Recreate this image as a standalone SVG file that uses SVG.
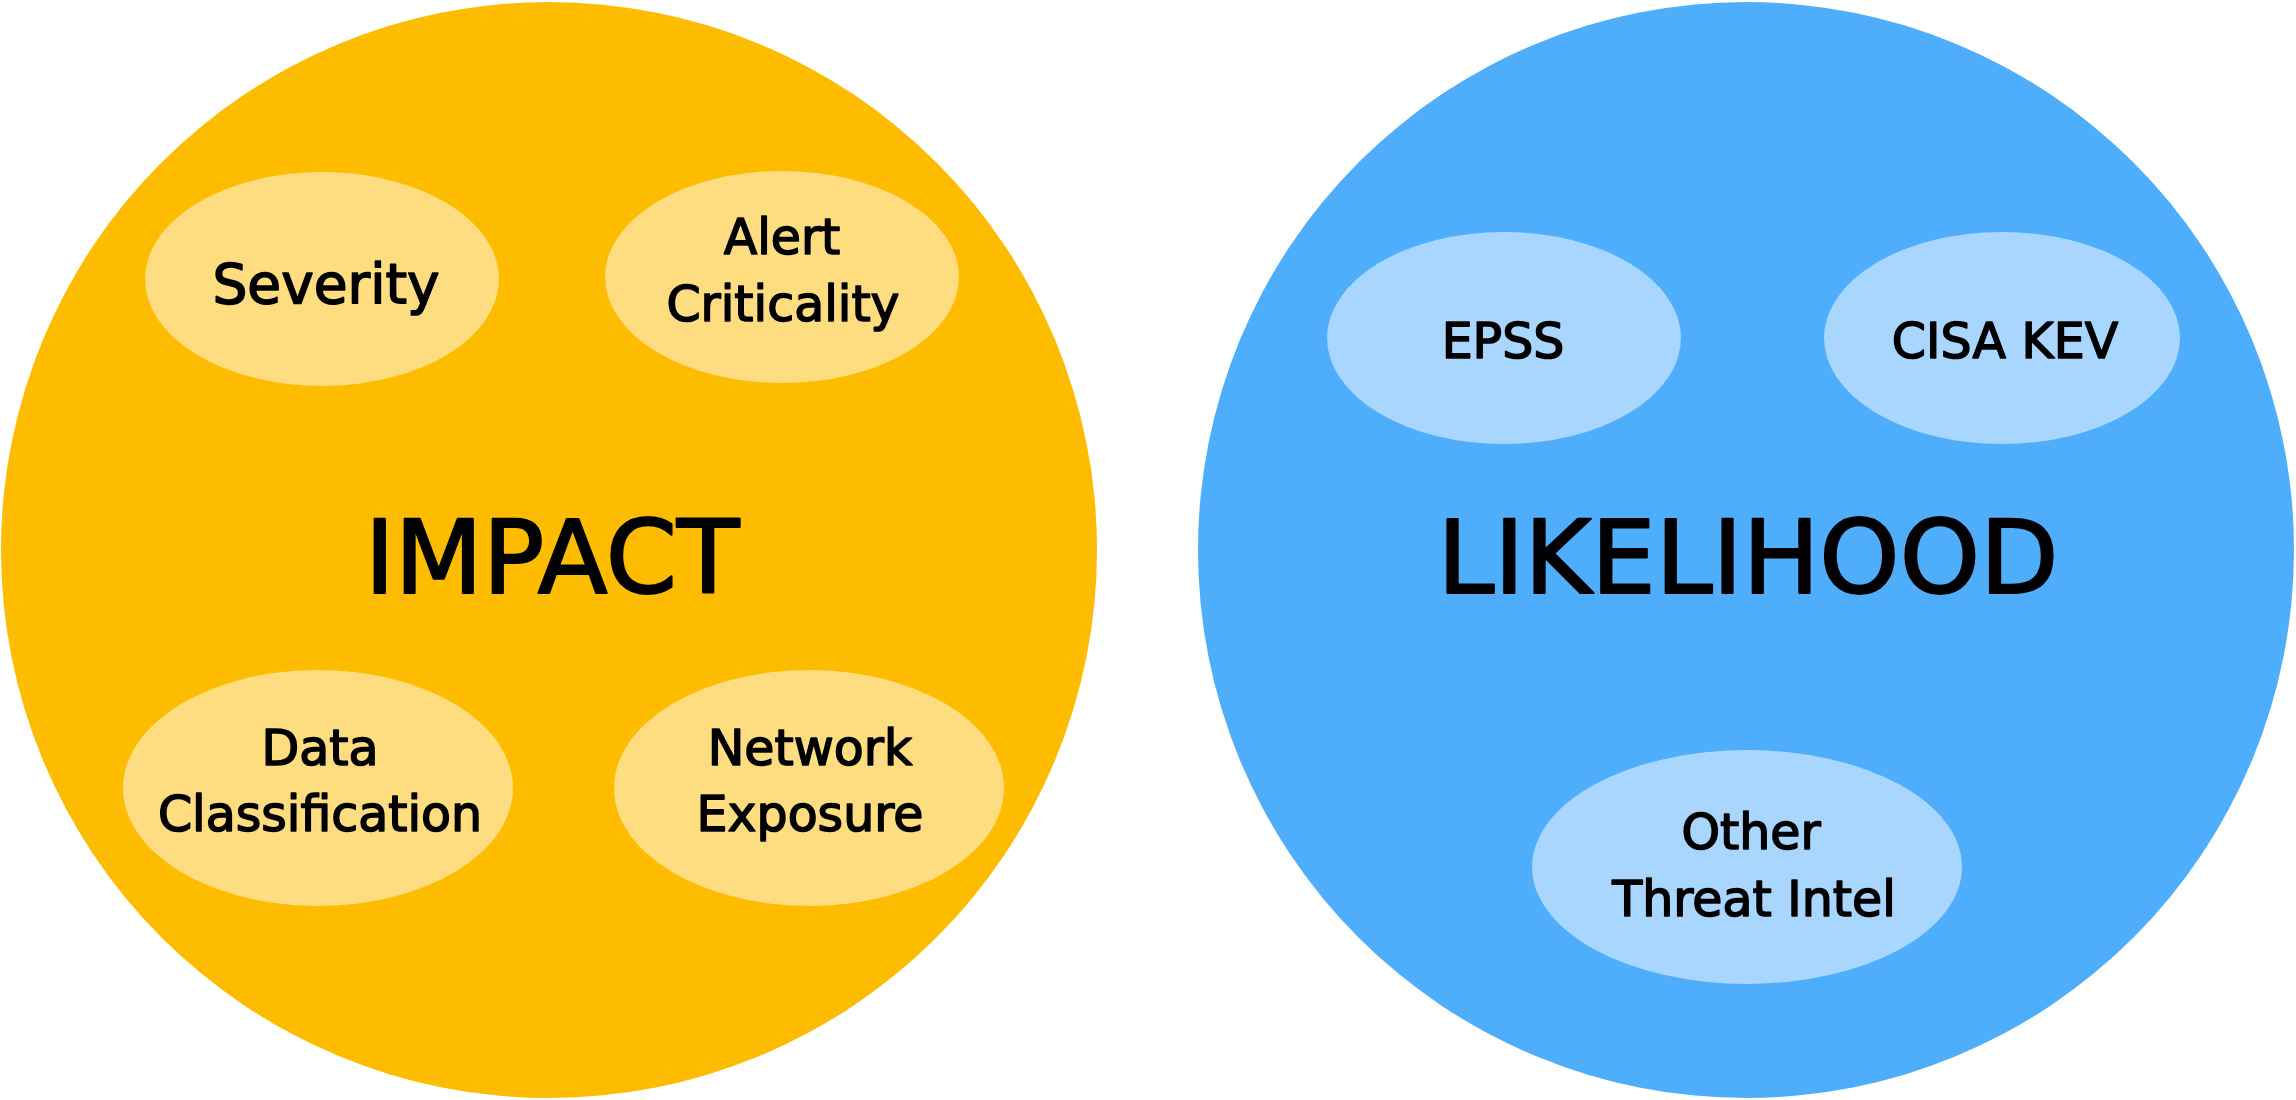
<svg xmlns="http://www.w3.org/2000/svg" width="2296" height="1100" viewBox="0 0 2296 1100">
<style>
.big{fill:#FDBC00}
.bigb{fill:#4EAEFC}
.sub{fill:#FEDC80}
.subb{fill:#A8D6FE}
text{font-family:"DejaVu Sans","Liberation Sans",sans-serif;fill:#000;text-anchor:middle}
.t{font-size:49px;stroke:#000;stroke-width:1.6;stroke-linejoin:round}
.title{font-size:102px;stroke:#000;stroke-width:2.2;stroke-linejoin:round}
</style>
<rect width="2296" height="1100" fill="#fff"/>
<g id="impact">
<circle class="big" cx="549" cy="550" r="548"/>
<text class="title" x="552" y="593">IMPACT</text>
</g>
<g id="severity">
<ellipse class="sub" cx="322" cy="279" rx="177" ry="107"/>
<text class="t" x="326" y="303" style="font-size:55px">Severity</text>
</g>
<g id="alert-criticality">
<ellipse class="sub" cx="782" cy="277" rx="177" ry="106"/>
<text class="t" x="782" y="254">Alert</text>
<text class="t" x="783" y="321">Criticality</text>
</g>
<g id="data-classification">
<ellipse class="sub" cx="318" cy="788" rx="195" ry="118"/>
<text class="t" x="320" y="765">Data</text>
<text class="t" x="320" y="831">Classification</text>
</g>
<g id="network-exposure">
<ellipse class="sub" cx="809" cy="788" rx="195" ry="118"/>
<text class="t" x="810" y="765">Network</text>
<text class="t" x="810" y="831">Exposure</text>
</g>
<g id="likelihood">
<circle class="bigb" cx="1746" cy="550" r="548"/>
<text class="title" x="1748" y="593">LIKELIHOOD</text>
</g>
<g id="epss">
<ellipse class="subb" cx="1504" cy="338" rx="177" ry="106"/>
<text class="t" x="1503" y="358">EPSS</text>
</g>
<g id="cisa-kev">
<ellipse class="subb" cx="2002" cy="338" rx="178" ry="106"/>
<text class="t" x="2005" y="358">CISA KEV</text>
</g>
<g id="other-threat-intel">
<ellipse class="subb" cx="1747" cy="867" rx="215" ry="117"/>
<text class="t" x="1751" y="849">Other</text>
<text class="t" x="1754" y="916">Threat Intel</text>
</g>
<g id="connectors"></g>
</svg>
